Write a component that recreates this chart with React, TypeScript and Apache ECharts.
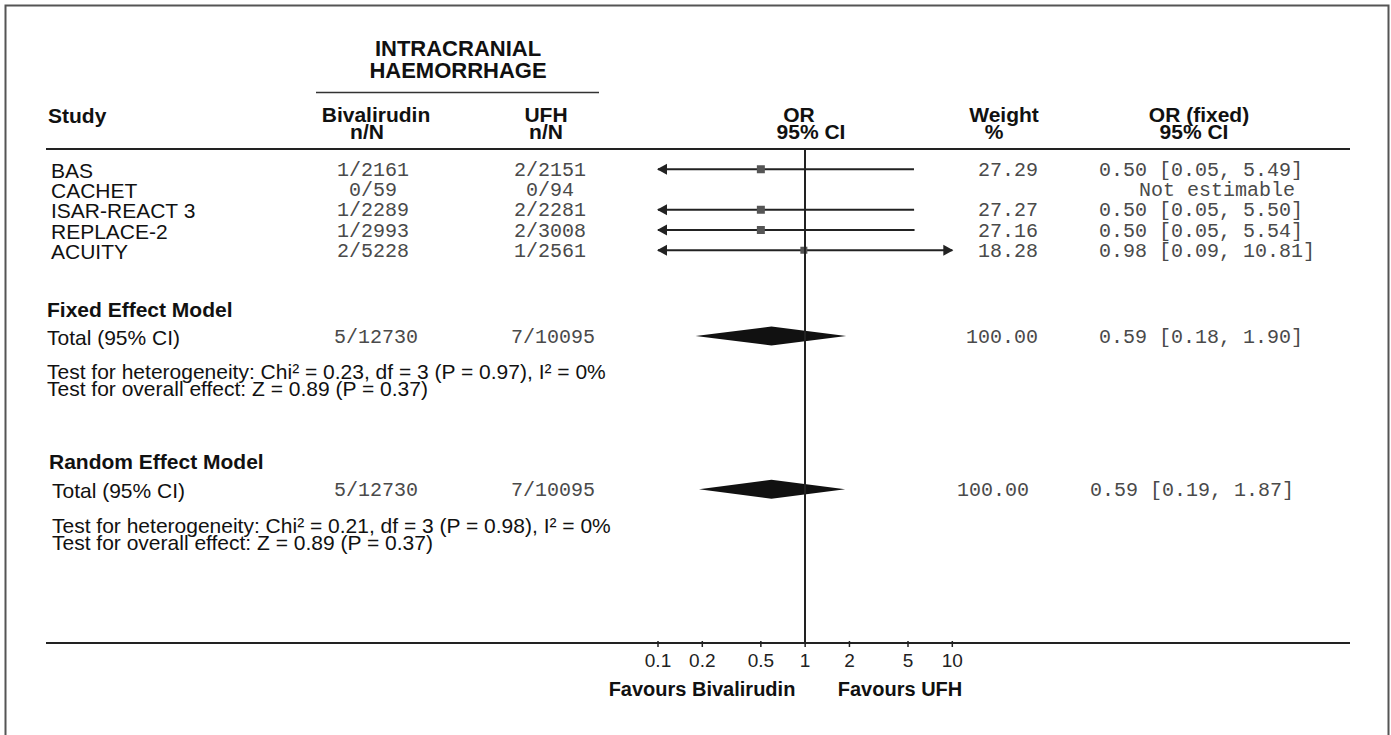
import React, { useEffect, useRef } from "react";
import * as echarts from "echarts";

// ---------- data ----------
const studies = ["BAS", "CACHET", "ISAR-REACT 3", "REPLACE-2", "ACUITY"];
const bivEvents = [1, 0, 1, 1, 2];
const bivTotal = [2161, 59, 2289, 2993, 5228];
const ufhEvents = [2, 0, 2, 2, 1];
const ufhTotal = [2151, 94, 2281, 3008, 2561];
const studyWeight = [27.29, null, 27.27, 27.16, 18.28];
const studyOR = [0.5, null, 0.5, 0.5, 0.98];
const studyLow = [0.05, null, 0.05, 0.05, 0.09];
const studyHigh = [5.49, null, 5.5, 5.54, 10.81];

const pooledNames = ["Fixed Effect Model", "Random Effect Model"];
const pooledBiv = ["5/12730", "5/12730"];
const pooledUfh = ["7/10095", "7/10095"];
const pooledWeight = [100.0, 100.0];
const pooledOR = [0.59, 0.59];
const pooledLow = [0.18, 0.19];
const pooledHigh = [1.9, 1.87];
const heterogeneity = [
  "Test for heterogeneity: Chi² = 0.23, df = 3 (P = 0.97), I² = 0%",
  "Test for heterogeneity: Chi² = 0.21, df = 3 (P = 0.98), I² = 0%",
];
const overall = [
  "Test for overall effect: Z = 0.89 (P = 0.37)",
  "Test for overall effect: Z = 0.89 (P = 0.37)",
];

const tickValues = [0.1, 0.2, 0.5, 1, 2, 5, 10];
const tickLabels = ["0.1", "0.2", "0.5", "1", "2", "5", "10"];

// ---------- layout ----------
const W = 1391;
const H = 735;
const GRID_TOP = 149;
const AXIS_Y = 643;
const GRID_LEFT = 658;
const GRID_RIGHT_X = 952.3;
const ROW_H = 20.25;
const studyRows = [1, 2, 3, 4, 5];
const pooledRows = [9.235, 16.8];

const SANS = '"Liberation Sans", Arial, sans-serif';
const MONO = '"Liberation Mono", "Courier New", monospace';

const rowPx = (r: number) => GRID_TOP + r * ROW_H;

function txt(text: string, x: number, y: number, opts: any = {}) {
  return {
    type: "text",
    x,
    y,
    silent: true,
    style: {
      text,
      font: opts.font || `21px ${SANS}`,
      fill: opts.fill || "#111",
      align: opts.align || "left",
      verticalAlign: "middle",
    },
  };
}

const boldF = (s: number) => `bold ${s}px ${SANS}`;
const regF = (s: number) => `${s}px ${SANS}`;
const monoF = `20px ${MONO}`;
const MONO_C = "#4a4a4a";

function buildGraphics() {
  const g: any[] = [];
  // frame
  g.push({
    type: "rect",
    silent: true,
    shape: { x: 5.5, y: 5.5, width: 1383, height: 800 },
    style: { fill: "transparent", stroke: "#555", lineWidth: 2 },
  });
  // header lines
  g.push({ type: "line", silent: true, shape: { x1: 316, y1: 92.5, x2: 599, y2: 92.5 }, style: { stroke: "#333", lineWidth: 1.5 } });
  g.push({ type: "line", silent: true, shape: { x1: 46, y1: GRID_TOP, x2: 1350, y2: GRID_TOP }, style: { stroke: "#222", lineWidth: 2 } });
  g.push({ type: "line", silent: true, shape: { x1: 46, y1: AXIS_Y, x2: 1350, y2: AXIS_Y }, style: { stroke: "#222", lineWidth: 2 } });

  // header texts
  g.push(txt("INTRACRANIAL", 458, 48, { font: boldF(22), align: "center" }));
  g.push(txt("HAEMORRHAGE", 458, 70, { font: boldF(22), align: "center" }));
  g.push(txt("Study", 48, 115, { font: boldF(21) }));
  g.push(txt("Bivalirudin", 376, 114, { font: boldF(21), align: "center" }));
  g.push(txt("n/N", 367, 131, { font: boldF(21), align: "center" }));
  g.push(txt("UFH", 546, 114, { font: boldF(21), align: "center" }));
  g.push(txt("n/N", 546, 131, { font: boldF(21), align: "center" }));
  g.push(txt("OR", 799, 114, { font: boldF(21), align: "center" }));
  g.push(txt("95% CI", 811, 131, { font: boldF(21), align: "center" }));
  g.push(txt("Weight", 1004, 114, { font: boldF(21), align: "center" }));
  g.push(txt("%", 994, 131, { font: boldF(21), align: "center" }));
  g.push(txt("OR (fixed)", 1199, 114, { font: boldF(21), align: "center" }));
  g.push(txt("95% CI", 1194, 131, { font: boldF(21), align: "center" }));

  // study rows
  studies.forEach((s, i) => {
    const y = rowPx(studyRows[i]) + 1;
    g.push(txt(s, 51, y, { font: regF(21) }));
    g.push(txt(`${bivEvents[i]}/${bivTotal[i]}`, 373, y, { font: monoF, fill: MONO_C, align: "center" }));
    g.push(txt(`${ufhEvents[i]}/${ufhTotal[i]}`, 550, y, { font: monoF, fill: MONO_C, align: "center" }));
    const w = studyWeight[i];
    const o = studyOR[i];
    if (w != null && o != null) {
      g.push(txt(w.toFixed(2), 1038, y, { font: monoF, fill: MONO_C, align: "right" }));
      g.push(
        txt(`${o.toFixed(2)} [${(studyLow[i] as number).toFixed(2)}, ${(studyHigh[i] as number).toFixed(2)}]`, 1099, y, {
          font: monoF,
          fill: MONO_C,
        })
      );
    } else {
      g.push(txt("Not estimable", 1139, y, { font: monoF, fill: MONO_C }));
    }
  });

  // pooled sections
  const secHeaderY = [309, 461];
  const secX = [47, 49];
  const secTextX = [47, 52];
  const testY = [
    [371, 388],
    [525, 542],
  ];
  const rightShift = [0, -9];
  pooledNames.forEach((name, k) => {
    const y = rowPx(pooledRows[k]) + 1;
    g.push(txt(name, secX[k], secHeaderY[k], { font: boldF(21) }));
    g.push(txt("Total (95% CI)", secTextX[k], y, { font: regF(21) }));
    g.push(txt(pooledBiv[k], 376, y, { font: monoF, fill: MONO_C, align: "center" }));
    g.push(txt(pooledUfh[k], 553, y, { font: monoF, fill: MONO_C, align: "center" }));
    g.push(txt(pooledWeight[k].toFixed(2), 1038 + rightShift[k], y, { font: monoF, fill: MONO_C, align: "right" }));
    g.push(
      txt(`${pooledOR[k].toFixed(2)} [${pooledLow[k].toFixed(2)}, ${pooledHigh[k].toFixed(2)}]`, 1099 + rightShift[k], y, {
        font: monoF,
        fill: MONO_C,
      })
    );
    g.push(txt(heterogeneity[k], secTextX[k], testY[k][0], { font: regF(21) }));
    g.push(txt(overall[k], secTextX[k], testY[k][1], { font: regF(21) }));
  });

  // footer
  g.push(txt("Favours Bivalirudin", 702, 689, { font: boldF(20), align: "center" }));
  g.push(txt("Favours UFH", 900, 689, { font: boldF(20), align: "center" }));
  return g;
}

export default function App() {
  const ref = useRef<HTMLDivElement>(null);
  useEffect(() => {
    if (!ref.current) return;
    const chart = echarts.init(ref.current, null, { renderer: "svg" });
    const logTicks = tickValues.map((v) => Math.log10(v));
    const xMin = Math.log10(tickValues[0]);
    const xMax = Math.log10(tickValues[tickValues.length - 1]);
    const yMax = (AXIS_Y - GRID_TOP) / ROW_H;

    const studyData: any[] = [];
    studies.forEach((_, i) => {
      if (studyOR[i] == null) return;
      studyData.push([
        studyRows[i],
        Math.log10(studyLow[i] as number),
        Math.log10(studyHigh[i] as number),
        Math.log10(studyOR[i] as number),
        studyWeight[i],
      ]);
    });
    const pooledData = pooledNames.map((_, k) => [
      pooledRows[k],
      Math.log10(pooledLow[k]),
      Math.log10(pooledHigh[k]),
      Math.log10(pooledOR[k]),
    ]);

    const option: any = {
      animation: false,
      backgroundColor: "#fff",
      grid: {
        left: GRID_LEFT,
        right: W - GRID_RIGHT_X,
        top: GRID_TOP,
        bottom: H - AXIS_Y,
        containLabel: false,
      },
      xAxis: {
        type: "value",
        position: "bottom",
        min: xMin,
        max: xMax,
        axisLine: { show: true, onZero: false, lineStyle: { color: "#222", width: 2 } },
        splitLine: { show: false },
        axisTick: { show: false },
        axisLabel: {
          show: true,
          customValues: logTicks,
          margin: 8,
          fontSize: 19,
          fontFamily: SANS,
          color: "#222",
          formatter: (v: number) => {
            const idx = logTicks.findIndex((t) => Math.abs(t - v) < 1e-6);
            return idx >= 0 ? tickLabels[idx] : "";
          },
        },
      },
      yAxis: {
        type: "value",
        inverse: true,
        min: 0,
        max: yMax,
        show: false,
      },
      graphic: buildGraphics(),
      series: [
        {
          type: "custom",
          name: "ticks",
          clip: false,
          silent: true,
          data: logTicks.map((t) => [t]),
          renderItem: (params: any, api: any) => {
            const p = api.coord([api.value(0), yMax]);
            return {
              type: "line",
              shape: { x1: p[0], y1: p[1] - 2, x2: p[0], y2: p[1] + 4 },
              style: { stroke: "#222", lineWidth: 1.5 },
            };
          },
        },
        {
          type: "custom",
          name: "studies",
          clip: false,
          data: studyData,
          renderItem: (params: any, api: any) => {
            const row = api.value(0);
            const lo = api.value(1);
            const hi = api.value(2);
            const est = api.value(3);
            const w = api.value(4);
            const l = Math.max(lo, xMin);
            const h = Math.min(hi, xMax);
            const p1 = api.coord([l, row]);
            const p2 = api.coord([h, row]);
            const pc = api.coord([est, row]);
            const children: any[] = [
              {
                type: "line",
                shape: { x1: p1[0], y1: p1[1], x2: p2[0], y2: p2[1] },
                style: { stroke: "#222", lineWidth: 2 },
              },
            ];
            if (lo < xMin) {
              children.push({
                type: "polygon",
                shape: { points: [[p1[0] - 1, p1[1]], [p1[0] + 9, p1[1] - 5.5], [p1[0] + 9, p1[1] + 5.5]] },
                style: { fill: "#222" },
              });
            }
            if (hi > xMax) {
              children.push({
                type: "polygon",
                shape: { points: [[p2[0] + 1, p2[1]], [p2[0] - 9, p2[1] - 5.5], [p2[0] - 9, p2[1] + 5.5]] },
                style: { fill: "#222" },
              });
            }
            const s = 5 + w * 0.11;
            children.push({
              type: "rect",
              shape: { x: pc[0] - s / 2, y: pc[1] - s / 2, width: s, height: s },
              style: { fill: "#555" },
            });
            return { type: "group", children };
          },
        },
        {
          type: "custom",
          name: "pooled",
          clip: false,
          data: pooledData,
          renderItem: (params: any, api: any) => {
            const row = api.value(0);
            const pl = api.coord([api.value(1), row]);
            const ph = api.coord([api.value(2), row]);
            const pc = api.coord([api.value(3), row]);
            const hh = 9.5;
            return {
              type: "polygon",
              shape: {
                points: [
                  [pl[0], pl[1]],
                  [pc[0], pc[1] - hh],
                  [ph[0], ph[1]],
                  [pc[0], pc[1] + hh],
                ],
              },
              style: { fill: "#111" },
            };
          },
          markLine: {
            silent: true,
            symbol: "none",
            label: { show: false },
            lineStyle: { color: "#222", width: 2, type: "solid" },
            data: [{ xAxis: 0 }],
          },
        },
      ],
    };
    chart.setOption(option);
    return () => chart.dispose();
  }, []);

  return (
    <div
      ref={ref}
      style={{ position: "absolute", left: 0, top: 0, width: W, height: H, background: "#fff" }}
    />
  );
}
